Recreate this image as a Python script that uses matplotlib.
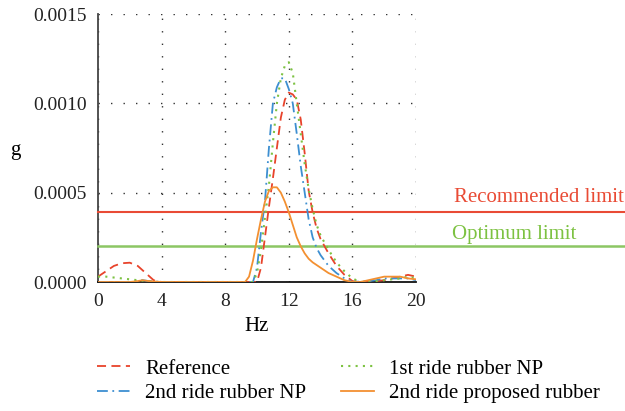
import matplotlib
matplotlib.use("Agg")
import matplotlib.pyplot as plt

plt.rcParams['font.family'] = ['Liberation Serif', 'DejaVu Serif']

# ---- data ----
ref_x = [0, 0.5, 1, 1.5, 2, 2.5, 3, 3.5, 4, 8, 9, 10, 10.25, 10.5, 10.75, 11, 11.25, 11.5, 11.75,
         12, 12.25, 12.5, 12.75, 13, 13.25, 13.5, 13.75, 14, 14.5, 15, 15.5, 16, 16.5, 17, 17.5,
         18, 18.5, 19, 19.5, 20]
ref_y = [0.00003, 0.00006, 0.00009, 0.000105, 0.000108, 0.00009, 0.00005, 0.00001, 0, 0, 0, 0,
         0.00008, 0.00025, 0.00042, 0.00058, 0.00075, 0.00092, 0.00102, 0.00106, 0.00105, 0.00102,
         0.00091, 0.00072, 0.00051, 0.00039, 0.00030, 0.00024, 0.00016, 0.00009, 0.00004, 0.000005,
         0, 0, 0.000005, 0.00001, 0.00002, 0.00003, 0.00004, 0.00003]

np1_x = [0, 0.5, 1, 1.5, 2, 2.5, 3, 3.5, 8, 9.75, 10, 10.25, 10.5, 10.75, 11, 11.25, 11.5, 11.75,
         12, 12.25, 12.5, 12.75, 13, 13.25, 13.5, 13.75, 14, 14.5, 15, 15.5, 16, 16.5, 17, 18,
         19, 19.5, 20]
np1_y = [0.00003, 0.00003, 0.000025, 0.00002, 0.000015, 0.00001, 0.000005, 0, 0, 0, 0.00005,
         0.00018, 0.00036, 0.00054, 0.00078, 0.00100, 0.00114, 0.00121, 0.00123, 0.00117, 0.00100,
         0.00083, 0.00066, 0.00052, 0.00041, 0.00032, 0.00026, 0.00018, 0.00011, 0.00006, 0.00002,
         0, 0, 0.00001, 0.00002, 0.00003, 0.00002]

np2_x = [0, 2, 2.5, 2.8, 3.2, 4, 8, 9.75, 10, 10.25, 10.5, 10.75, 11, 11.25, 11.5, 11.75, 12,
         12.25, 12.5, 12.75, 13, 13.25, 13.5, 13.75, 14, 14.5, 15, 15.5, 16, 17, 17.5, 18, 18.5,
         19, 19.5, 20]
np2_y = [0, 0, 0.000005, 0.00001, 0.000005, 0, 0, 0, 0.00008, 0.00028, 0.00045, 0.00075, 0.00100,
         0.00109, 0.00114, 0.00114, 0.00108, 0.00100, 0.00083, 0.00065, 0.00050, 0.00035, 0.00025,
         0.00019, 0.00015, 0.00009, 0.00005, 0.00002, 0, 0.000005, 0.00001, 0.00002, 0.00002,
         0.00002, 0.00002, 0.00001]

prop_x = [0, 2, 2.5, 2.8, 3.2, 4, 8, 9.25, 9.5, 9.75, 10, 10.25, 10.5, 10.75, 11, 11.25, 11.5,
          11.75, 12, 12.25, 12.5, 12.75, 13, 13.25, 13.5, 14, 14.5, 15, 15.5, 16, 16.5, 17, 17.5,
          18, 18.5, 19, 19.5, 20]
prop_y = [0, 0, 0.000005, 0.00001, 0.000005, 0, 0, 0, 0.00003, 0.00012, 0.00024, 0.00035, 0.00045,
          0.00051, 0.00053, 0.00053, 0.00050, 0.00045, 0.00039, 0.00032, 0.00025, 0.00020, 0.00016,
          0.00013, 0.00011, 0.00008, 0.00005, 0.00003, 0.00001, 0, 0, 0.00001, 0.00002, 0.00003,
          0.00003, 0.00003, 0.00002, 0.000015]

recommended_limit = 0.00039
optimum_limit = 0.0002

x_ticks = [0, 4, 8, 12, 16, 20]
y_ticks = [0.0, 0.0005, 0.0010, 0.0015]
y_tick_labels = ["0.0000", "0.0005", "0.0010", "0.0015"]

# ---- figure ----
fig = plt.figure(figsize=(6.25, 4.11), dpi=100)
ax = fig.add_axes([98/625, 1 - 282/411, 318/625, 268/411])

c_red = "#e8432b"
c_blue = "#3d8fd1"
c_green = "#7dc242"
c_orange = "#f39031"

ax.plot(ref_x, ref_y, color=c_red, lw=1.3, ls=(0, (5, 3)), label="Reference", zorder=4)
ax.plot(np2_x, np2_y, color=c_blue, lw=1.3, ls=(0, (6, 2.5, 1, 2.5)), label="2nd ride rubber NP", zorder=4)
ax.plot(np1_x, np1_y, color=c_green, lw=1.5, ls=(0, (1, 2.5)), label="1st ride rubber NP", zorder=4)
ax.plot(prop_x, prop_y, color=c_orange, lw=1.3, ls="-", label="2nd ride proposed rubber", zorder=4)

xmax_frac = (625 - 98) / 318
ax.axhline(recommended_limit, xmin=0, xmax=xmax_frac, color="#e94b35", lw=1.5, clip_on=False, zorder=3)
ax.axhline(optimum_limit, xmin=0, xmax=xmax_frac, color="#8cc664", lw=1.8, clip_on=False, zorder=3)

fs = 15
tfs = 14
fig.text(624/625, 1 - 197/411, "Recommended limit", color="#e94b35", fontsize=fs,
         ha="right", va="center")
fig.text(452/625, 1 - 234/411, "Optimum limit", color="#7dc242", fontsize=fs,
         ha="left", va="center")

ax.set_xlim(0, 20)
ax.set_ylim(0, 0.0015)
ax.set_xticks(x_ticks)
ax.set_xticklabels([str(t) for t in x_ticks])
ax.set_yticks(y_ticks)
ax.set_yticklabels(y_tick_labels)
ax.tick_params(axis="y", length=0, labelsize=tfs, colors="#222222", pad=8)
ax.tick_params(axis="x", length=0, labelsize=tfs, colors="#222222", pad=8)

ax.grid(True, color="#333333", ls=(0, (1, 8)), lw=1.0)
for s in ["top", "right"]:
    ax.spines[s].set_visible(False)
ax.spines["left"].set_color("#444444")
ax.spines["left"].set_linewidth(1.3)
ax.spines["bottom"].set_color("#111111")
ax.spines["bottom"].set_linewidth(1.3)

ax.set_xlabel("Hz", fontsize=fs, labelpad=5)
fig.text(15/625, 1 - 150/411, "g", fontsize=fs, ha="center", va="center")

h, l = ax.get_legend_handles_labels()
leg = fig.legend(h, l, ncol=2,
                 loc="upper left", bbox_to_anchor=(97/625, 1 - 359/411), frameon=False,
                 fontsize=fs, handlelength=1.6, columnspacing=1.66, labelspacing=0.25,
                 handletextpad=0.7, borderpad=0, borderaxespad=0)

fig.savefig("out.png", dpi=100)
